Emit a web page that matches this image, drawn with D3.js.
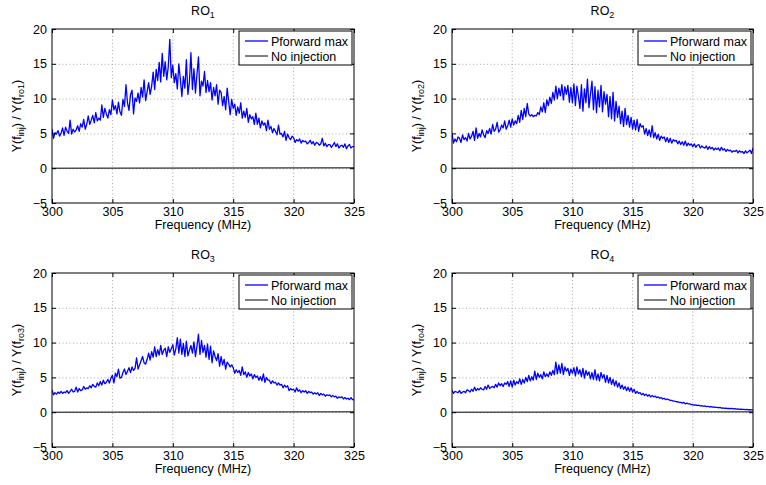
<!DOCTYPE html>
<html><head><meta charset="utf-8">
<script src="https://cdn.jsdelivr.net/npm/d3@7"></script>
<style>body{margin:0;background:#fff} svg{display:block} text{font-family:"Liberation Sans",Arial,Helvetica,sans-serif;fill:#000}</style>
</head><body><svg id="c" width="766" height="485"></svg>
<script>
// ---------- data ----------
const xTicks = [300, 305, 310, 315, 320, 325];
const yTicks = [-5, 0, 5, 10, 15, 20];
const panelIds = ["1", "2", "3", "4"];
const legendLabels = ["Pforward max", "No injection"];
const freqStart = 300, freqStep = 0.125; // sample grid of the measured sweeps
const noInjFreq = [300, 325];
const noInjVals = [0, 0.05];

const ro1 = [
5.6,4.3,5.1,4.9,5.4,4.6,5.0,5.8, 4.7,5.9,5.3,5.0,6.9,4.9,5.6,5.2,
5.5,6.1,5.3,6.4,5.9,7.0,5.6,6.3, 7.5,6.3,6.9,7.6,6.5,8.0,6.8,7.2,
6.9,9.1,7.3,8.6,7.8,7.2,8.4,7.7, 9.8,8.4,9.0,7.8,9.5,8.1,7.6,9.9,
8.9,12.0,9.4,8.3,10.6,11.2,7.8,10.1, 9.6,10.8,9.4,11.6,10.2,12.7,9.7,11.0,
12.3,10.6,11.8,13.8,11.3,14.2,12.6,15.2, 12.4,16.5,13.2,15.3,12.7,14.6,18.5,13.0,
14.8,12.3,13.6,11.4,15.0,12.8,10.3,13.2, 11.5,15.6,10.6,12.4,16.6,11.3,14.3,10.8,
13.5,16.0,10.4,12.5,11.8,13.9,10.9,12.6, 11.0,12.3,9.8,11.6,10.4,12.0,9.2,11.2,
10.9,9.0,10.3,8.4,11.5,9.6,7.7,9.9, 8.6,9.2,7.6,8.8,7.9,9.4,7.2,8.2,
7.3,8.6,6.6,7.7,7.1,7.4,6.3,7.9, 6.3,7.2,5.8,6.8,6.2,6.5,5.4,6.9,
5.6,6.0,5.1,5.7,5.3,4.8,6.2,4.9, 5.0,4.5,5.3,4.0,4.9,4.4,4.1,4.6,
4.4,3.7,4.1,3.9,4.2,3.6,4.0,3.8, 3.9,3.5,3.7,4.0,3.5,3.8,3.3,3.7,
3.6,3.3,3.5,4.3,3.2,3.6,3.1,3.4, 3.4,3.0,3.3,3.7,3.1,3.5,2.9,3.2,
3.3,3.0,3.5,2.8,3.2,3.4,2.9,3.1, 3.1];

const ro2 = [
5.0,3.6,4.2,3.8,4.5,4.3,3.7,4.8, 4.1,4.4,3.9,5.0,4.2,4.6,5.3,4.0,
5.8,4.3,5.0,4.5,5.5,4.8,4.4,5.4, 5.0,5.7,4.9,6.3,5.3,5.6,6.6,5.2,
5.5,6.2,5.8,6.8,5.6,6.1,6.9,5.9, 7.1,6.2,6.8,6.4,7.6,6.6,8.3,7.0,
8.6,7.4,9.3,7.8,7.5,7.7,7.4,7.6, 7.5,8.0,7.7,8.8,8.1,9.4,8.0,9.8,
9.0,10.2,9.3,10.9,9.8,11.8,10.0,11.5, 10.4,12.0,9.8,11.7,10.6,11.9,9.5,11.6,
9.4,12.1,9.0,11.8,10.3,8.6,12.0,8.2, 11.4,9.4,12.8,8.7,10.6,12.5,8.4,11.7,
8.0,11.2,8.8,11.9,8.1,11.0,9.2,10.6, 7.4,10.3,7.1,10.9,6.8,9.6,7.3,8.9,
6.4,8.2,6.0,8.6,6.3,7.6,5.9,7.3, 5.6,6.9,5.5,7.0,5.3,6.4,5.9,6.1,
4.9,5.7,4.7,5.5,4.5,6.1,4.4,5.1, 4.2,4.9,4.0,4.6,4.3,4.5,3.8,4.4,
3.7,4.3,3.6,4.1,3.9,4.0,3.5,3.9, 3.4,3.8,3.3,3.9,3.2,3.6,3.3,3.5,
3.1,3.5,3.0,3.3,3.4,2.9,3.2,3.0, 2.9,3.2,2.7,3.1,2.8,3.0,2.6,2.9,
2.7,2.9,2.5,3.0,2.6,2.8,2.4,2.7, 2.5,2.6,2.3,2.5,2.4,2.6,2.2,2.5,
2.3,2.4,2.1,2.5,2.2,2.4,2.6,2.1, 2.9];

const ro3 = [
3.2,2.5,2.8,2.6,2.9,2.7,3.0,2.7, 2.9,2.8,3.1,2.7,3.0,3.3,2.9,3.0,
3.6,2.9,3.4,3.1,3.2,3.7,3.3,3.5, 3.4,3.8,3.5,4.0,3.7,3.6,4.2,3.8,
4.4,3.9,4.6,4.1,4.3,4.7,4.2,4.9, 5.3,4.2,5.6,5.1,6.2,4.9,5.0,5.7,
6.2,5.4,5.9,6.4,5.7,6.5,6.0,6.3, 7.8,6.2,6.8,7.4,8.0,7.1,6.9,7.6,
8.5,7.5,8.7,7.9,9.4,8.0,9.0,8.2, 9.6,8.3,8.9,9.2,8.0,9.4,8.6,9.1,
9.7,8.2,9.1,10.7,8.5,10.5,8.3,9.9, 8.0,10.2,8.1,8.9,9.6,8.5,10.1,8.0,
9.5,11.2,8.3,10.3,8.6,9.6,7.9,9.8, 7.6,9.5,7.1,8.8,8.0,7.4,8.4,6.6,
8.0,6.8,7.6,6.2,7.2,6.9,6.5,6.8, 6.4,5.6,6.1,5.7,6.0,5.3,6.5,5.4,
5.8,5.0,5.7,5.2,5.5,4.8,5.4,5.0, 5.2,4.6,5.1,4.5,5.5,4.3,5.0,4.6,
4.6,4.1,4.5,4.2,4.3,3.9,4.2,3.9, 4.0,3.5,3.9,3.6,3.8,3.1,3.4,3.2,
3.3,2.9,3.5,3.0,3.2,2.8,3.1,2.9, 3.1,2.7,3.0,2.8,2.9,2.6,2.8,2.6,
2.8,2.4,2.7,2.5,2.6,2.3,2.5,2.4, 2.5,2.2,2.4,2.2,2.3,2.0,2.2,2.1,
2.2,1.9,2.1,1.9,2.0,1.8,2.1,1.8, 1.8];

const ro4 = [
3.2,2.7,3.0,2.9,2.8,3.1,2.7,2.9, 3.0,2.8,3.2,3.1,2.9,3.3,3.0,3.6,
3.1,3.4,3.2,3.5,3.3,3.2,3.7,3.3, 3.9,3.4,3.6,3.7,3.5,4.0,3.6,4.2,
3.8,4.1,3.7,4.2,4.0,4.4,3.7,4.5, 3.6,4.6,3.9,4.4,4.1,4.8,4.0,4.7,
4.2,5.0,4.4,5.3,4.5,5.1,4.6,5.9, 4.7,5.6,5.0,5.4,4.8,5.8,5.1,5.5,
5.1,5.8,5.3,6.0,5.4,7.2,5.5,6.8, 5.6,7.0,5.4,6.5,5.9,6.3,5.3,6.2,
5.6,6.4,5.2,6.5,5.5,6.1,5.1,6.3, 4.9,6.0,5.3,5.8,4.8,5.7,4.7,6.1,
4.6,5.5,4.5,5.7,4.9,5.4,4.3,5.3, 4.2,5.0,4.0,4.7,3.8,4.5,3.6,4.2,
3.4,3.9,3.3,3.7,3.1,3.6,3.0,3.5, 2.9,3.3,2.7,3.0,2.7,2.8,2.5,2.7,
2.4,2.6,2.3,2.5,2.2,2.4,2.2,2.3, 2.1,2.2,2.0,2.1,1.9,2.0,1.8,1.9,
1.8,1.7,1.7,1.6,1.6,1.5,1.5,1.4, 1.4,1.3,1.4,1.2,1.3,1.2,1.2,1.1,
1.1,1.0,1.05,0.95,1.0,0.9,0.95,0.85, 0.9,0.8,0.85,0.75,0.8,0.72,0.75,0.68,
0.7,0.64,0.68,0.6,0.62,0.56,0.6,0.53, 0.56,0.5,0.54,0.47,0.5,0.44,0.48,0.42,
0.45,0.4,0.42,0.37,0.4,0.35,0.37,0.33, 0.34];

const seriesList = [ro1, ro2, ro3, ro4];

// ---------- layout ----------
const boxes = [
  {x0: 52,  x1: 354, y0: 29,  y1: 203},
  {x0: 452, x1: 753, y0: 29,  y1: 203},
  {x0: 52,  x1: 354, y0: 273, y1: 447},
  {x0: 452, x1: 753, y0: 273, y1: 447}
];

const svg = d3.select("#c");
const FS = 12.5;

boxes.forEach((b, i) => {
  const vals = seriesList[i];
  const pts = vals.map((v, k) => [freqStart + k * freqStep, v]);
  const x = d3.scaleLinear().domain([300, 325]).range([b.x0, b.x1]);
  const y = d3.scaleLinear().domain([-5, 20]).range([b.y1, b.y0]);
  const g = svg.append("g");

  // grid
  g.selectAll(".gx").data(xTicks.slice(1, -1)).join("line")
    .attr("x1", d => x(d)).attr("x2", d => x(d)).attr("y1", b.y0).attr("y2", b.y1)
    .attr("stroke", "#a8a8a8").attr("stroke-width", 1).attr("stroke-dasharray", "1,2.5");
  g.selectAll(".gy").data(yTicks.slice(1, -1)).join("line")
    .attr("y1", d => y(d) + 0.5).attr("y2", d => y(d) + 0.5).attr("x1", b.x0).attr("x2", b.x1)
    .attr("stroke", "#a8a8a8").attr("stroke-width", 1).attr("stroke-dasharray", "1,2.5");

  // clip
  const cid = "clip" + i;
  svg.append("clipPath").attr("id", cid).append("rect")
    .attr("x", b.x0).attr("y", b.y0).attr("width", b.x1 - b.x0).attr("height", b.y1 - b.y0);

  const line = d3.line().x(d => x(d[0])).y(d => y(d[1]));
  // no injection
  g.append("path").datum(noInjFreq.map((f, k) => [f, noInjVals[k]]))
    .attr("d", line).attr("fill", "none").attr("stroke", "#000").attr("stroke-width", 1)
    .attr("clip-path", `url(#${cid})`);
  // data
  g.append("path").datum(pts).attr("d", line).attr("fill", "none")
    .attr("stroke", "#0000ff").attr("stroke-width", 1.3).attr("stroke-linejoin", "round")
    .attr("clip-path", `url(#${cid})`);

  // axes
  const xa = d3.axisBottom(x).tickValues(xTicks).tickSize(-4).tickPadding(4).tickFormat(d3.format("d"));
  const ya = d3.axisLeft(y).tickValues(yTicks).tickSize(-4).tickPadding(5)
    .tickFormat(d => d < 0 ? "\u2212" + Math.abs(d) : String(d));
  const gx = g.append("g").attr("transform", `translate(0,${b.y1})`).call(xa);
  const gy = g.append("g").attr("transform", `translate(${b.x0},0)`).call(ya);
  const gxt = g.append("g").attr("transform", `translate(0,${b.y0})`).call(d3.axisTop(x).tickValues(xTicks).tickSize(-4).tickFormat(""));
  const gyr = g.append("g").attr("transform", `translate(${b.x1},0)`).call(d3.axisRight(y).tickValues(yTicks).tickSize(-4).tickFormat(""));
  [gx, gy, gxt, gyr].forEach(a => {
    a.select(".domain").remove();
    a.selectAll("line").attr("stroke", "#000");
    a.selectAll("text").attr("font-size", FS).attr("font-family", '"Liberation Sans",Arial,sans-serif').attr("fill", "#000");
  });
  // box
  g.append("rect").attr("x", b.x0).attr("y", b.y0).attr("width", b.x1 - b.x0).attr("height", b.y1 - b.y0)
    .attr("fill", "none").attr("stroke", "#000").attr("stroke-width", 1);

  // title
  const cx = (b.x0 + b.x1) / 2;
  const t = g.append("text").attr("x", cx).attr("y", b.y0 - 14).attr("text-anchor", "middle").attr("font-size", FS);
  t.append("tspan").text("RO");
  t.append("tspan").attr("dy", 3).attr("font-size", 9).text(panelIds[i]);

  // x label
  g.append("text").attr("x", cx).attr("y", b.y1 + 26).attr("text-anchor", "middle").attr("font-size", FS).text("Frequency (MHz)");

  // y label
  const yl = g.append("text").attr("transform", `translate(${b.x0 - 31},${(b.y0 + b.y1) / 2}) rotate(-90)`)
    .attr("text-anchor", "middle").attr("font-size", FS);
  yl.append("tspan").text("Y(f");
  yl.append("tspan").attr("dy", 3).attr("font-size", 9).text("inj");
  yl.append("tspan").attr("dy", -3).text(") / Y(f");
  yl.append("tspan").attr("dy", 3).attr("font-size", 9).text("ro" + panelIds[i]);
  yl.append("tspan").attr("dy", -3).text(")");

  // legend
  const lw = 113, lh = 34;
  const lx = b.x1 - lw - 2, ly = b.y0 + 2;
  const lg = g.append("g");
  lg.append("rect").attr("x", lx).attr("y", ly).attr("width", lw).attr("height", lh)
    .attr("fill", "#fff").attr("stroke", "#000").attr("stroke-width", 1);
  const colors = ["#0000ff", "#000"];
  legendLabels.forEach((lab, k) => {
    const yy = ly + 10 + k * 15;
    lg.append("line").attr("x1", lx + 6).attr("x2", lx + 29).attr("y1", yy).attr("y2", yy)
      .attr("stroke", colors[k]).attr("stroke-width", k === 0 ? 1.3 : 1);
    lg.append("text").attr("x", lx + 32).attr("y", yy + 4.5).attr("font-size", FS).text(lab);
  });
});
</script></body></html>
